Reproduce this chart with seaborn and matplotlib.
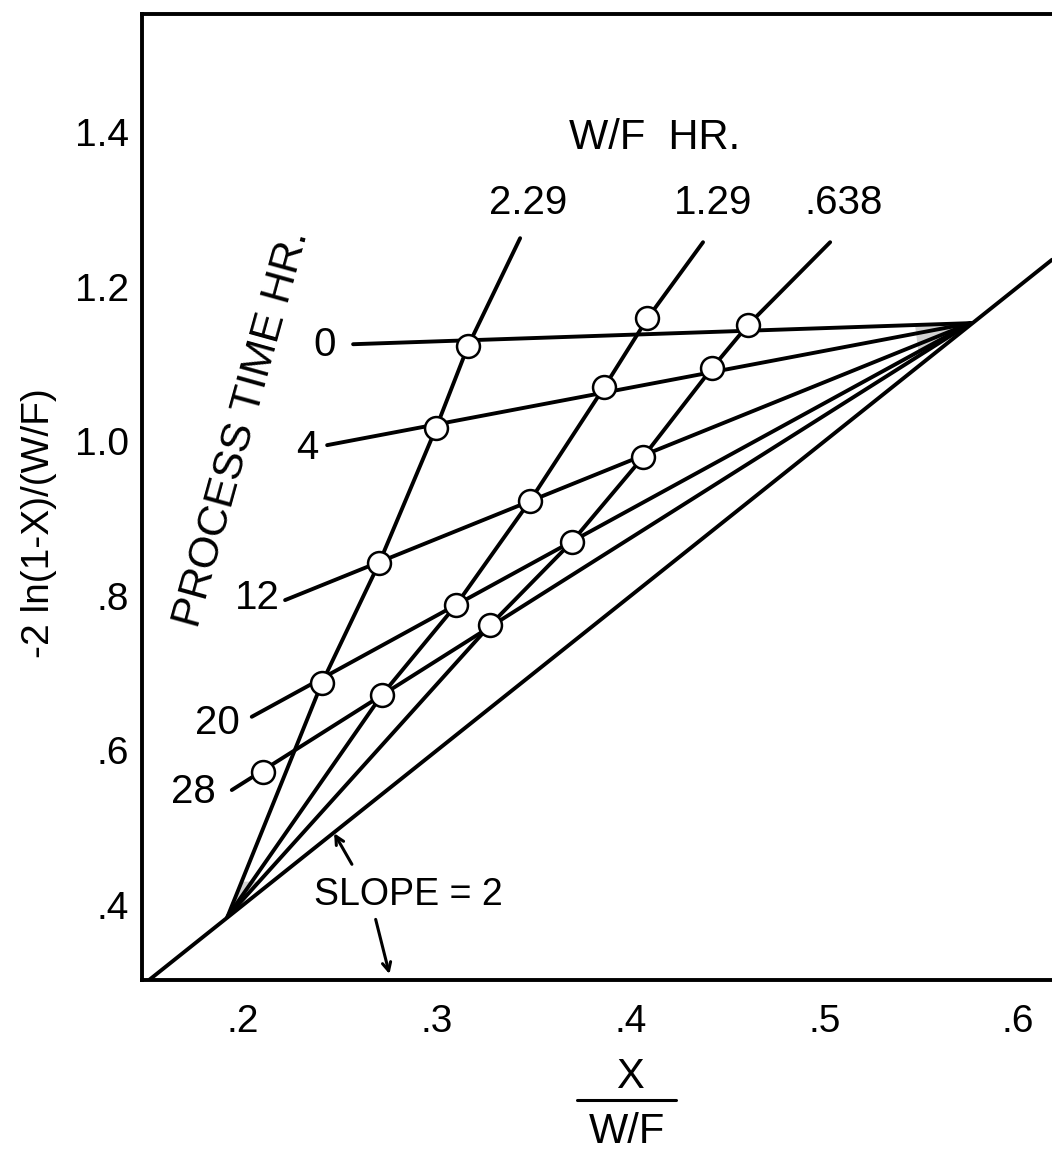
import numpy as np
import pandas as pd
import matplotlib
matplotlib.use("Agg")
import matplotlib.pyplot as plt
from matplotlib.lines import Line2D
from matplotlib import font_manager as fm
import seaborn as sns

# ---------------- data ----------------
wf_labels = ['2.29', '1.29', '.638']          # W/F, hr
time_labels = ['0', '4', '12', '20', '28']    # process time, hr

# measured points (circles): one list per W/F, ordered by process time
pts_x_229 = [0.3161, 0.2996, 0.2703, 0.2406, 0.2105]
pts_y_229 = [1.1232, 1.0171, 0.8428, 0.6868, 0.5724]
pts_x_129 = [0.4087, 0.3865, 0.3481, 0.3099, 0.2716]
pts_y_129 = [1.1590, 1.0705, 0.9230, 0.7881, 0.6717]
pts_x_638 = [0.4605, 0.4419, 0.4063, 0.3697, 0.3275]
pts_y_638 = [1.1503, 1.0943, 0.9792, 0.8700, 0.7622]

# W/F lines: upper end points, number of circles each line runs through
wf_top_x = [0.3430, 0.4374, 0.5030]
wf_top_y = [1.2629, 1.2577, 1.2577]
wf_line_npts = [4, 5, 5]

# process-time lines: left end points
time_start_x = [0.2568, 0.2434, 0.2217, 0.2045, 0.1942]
time_start_y = [1.1257, 0.9951, 0.7946, 0.6436, 0.5488]

# meeting points of the fans
apex_upper = (0.5755, 1.153)
apex_lower = (0.192, 0.385)

# SLOPE = 2 reference line
slope = 2.0
slope_x = [0.1477, 0.6175]

xticks = [0.2, 0.3, 0.4, 0.5, 0.6]
xtick_labels = ['.2', '.3', '.4', '.5', '.6']
yticks = [0.4, 0.6, 0.8, 1.0, 1.2, 1.4]
ytick_labels = ['.4', '.6', '.8', '1.0', '1.2', '1.4']
yminor = [0.5, 0.7, 0.9, 1.1, 1.3, 1.5]

# ---------------- fonts / theme ----------------
sns.set_theme(style="white")
avail = {f.name for f in fm.fontManager.ttflist}
REG = 'Liberation Sans' if 'Liberation Sans' in avail else 'DejaVu Sans'
NAR = 'Liberation Sans Narrow' if 'Liberation Sans Narrow' in avail else REG
plt.rcParams['font.family'] = [REG, 'DejaVu Sans']
plt.rcParams['text.color'] = 'black'
plt.rcParams['axes.labelcolor'] = 'black'
plt.rcParams['xtick.color'] = 'black'
plt.rcParams['ytick.color'] = 'black'

W, H = 1052, 1154
fig = plt.figure(figsize=(W / 100, H / 100), dpi=100)
fig.patch.set_facecolor('white')
L, R, B, T = 141.7, 1052, 980, 14
ax = fig.add_axes([L / W, 1 - B / H, (R - L) / W, (B - T) / H])
ax.set_facecolor('white')

# ---------------- build line table ----------------
pts_x = [pts_x_229, pts_x_129, pts_x_638]
pts_y = [pts_y_229, pts_y_129, pts_y_638]
rows = []
for i, lab in enumerate(wf_labels):
    xs = [wf_top_x[i]] + pts_x[i][:wf_line_npts[i]] + [apex_lower[0]]
    ys = [wf_top_y[i]] + pts_y[i][:wf_line_npts[i]] + [apex_lower[1]]
    for k, (xv, yv) in enumerate(zip(xs, ys)):
        rows.append(dict(line='wf' + lab, order=k, x=xv, y=yv))
for j, lab in enumerate(time_labels):
    rows.append(dict(line='t' + lab, order=0, x=time_start_x[j], y=time_start_y[j]))
    rows.append(dict(line='t' + lab, order=1, x=apex_upper[0], y=apex_upper[1]))
for k, xv in enumerate(slope_x):
    rows.append(dict(line='slope', order=k, x=xv, y=slope * xv))
lines_df = pd.DataFrame(rows)

# grey stippled wedges where the fans close up
def toward(p, q, f):
    return (p[0] + (q[0] - p[0]) * f, p[1] + (q[1] - p[1]) * f)

up0 = toward(apex_upper, (time_start_x[0], time_start_y[0]), 0.09)
up4 = toward(apex_upper, (time_start_x[-1], time_start_y[-1]), 0.07)
ax.fill([apex_upper[0], up0[0], up4[0]], [apex_upper[1], up0[1], up4[1]],
        color='#d2d2d2', lw=0, zorder=1)
lo1 = toward(apex_lower, (pts_x_229[3], pts_y_229[3]), 0.15)
lo3 = toward(apex_lower, (pts_x_638[4], pts_y_638[4]), 0.12)
ax.fill([apex_lower[0], lo1[0], lo3[0]], [apex_lower[1], lo1[1], lo3[1]],
        color='#d2d2d2', lw=0, zorder=1)

sns.lineplot(data=lines_df, x='x', y='y', units='line', estimator=None,
             sort=False, color='black', linewidth=2.8, legend=False, ax=ax,
             zorder=2)

pts_df = pd.DataFrame(dict(
    x=np.concatenate(pts_x), y=np.concatenate(pts_y),
    wf=np.repeat(wf_labels, len(time_labels)),
    t=np.tile(time_labels, len(wf_labels))))
sns.scatterplot(data=pts_df, x='x', y='y', s=272, marker='o',
                facecolor='white', edgecolor='black', linewidth=1.8,
                legend=False, ax=ax, zorder=4)

# ---------------- axes styling ----------------
ax.set_xlim(0.1477, 0.6175)
ax.set_ylim(0.303, 1.553)
ax.set_xticks(xticks)
ax.set_xticklabels(xtick_labels, fontsize=28, fontfamily=NAR, color='black')
ax.set_yticks(yticks)
ax.set_yticklabels(ytick_labels, fontsize=28, fontfamily=NAR, color='black')
ax.set_yticks(yminor, minor=True)
ax.tick_params(axis='both', which='both', direction='in', length=9,
               width=2.4, color='black', labelcolor='black')
ax.tick_params(axis='x', pad=17)
ax.tick_params(axis='y', pad=9)
ax.set_xlabel('')
ax.set_ylabel('')
for s in ['left', 'bottom', 'top']:
    ax.spines[s].set_visible(True)
    ax.spines[s].set_color('black')
    ax.spines[s].set_linewidth(2.8)
ax.spines['right'].set_visible(False)
ax.grid(False)

# ---------------- annotations ----------------
ax.text(0.4126, 1.392, 'W/F  HR.', fontsize=30, ha='center', va='center',
        fontfamily=REG, color='black')
wf_label_x = [0.3471, 0.4426, 0.5097]
for lab, xv in zip(wf_labels, wf_label_x):
    ax.text(xv, 1.308, lab, fontsize=29, ha='center', va='center',
            fontfamily=NAR, color='black')

time_label_x = [0.2423, 0.2330, 0.2072, 0.1866, 0.1742]
time_label_y = [1.1245, 0.9912, 0.7972, 0.6354, 0.5462]
for lab, xv, yv in zip(time_labels, time_label_x, time_label_y):
    ax.text(xv, yv, lab, fontsize=29, ha='center', va='center',
            fontfamily=NAR, color='black')

ax.text(0.1995, 1.017, 'PROCESS TIME HR.', fontsize=31, rotation=74.5,
        ha='center', va='center', rotation_mode='anchor', fontfamily=REG,
        color='black')

ax.text(0.2852, 0.413, 'SLOPE = 2', fontsize=27, ha='center', va='center',
        fontfamily=REG, color='black')
ax.annotate('', xy=(0.2463, 0.4961), xytext=(0.2569, 0.4496),
            arrowprops=dict(arrowstyle='->,head_length=0.5,head_width=0.25',
                            lw=2.2, color='black'))
ax.annotate('', xy=(0.2759, 0.3072), xytext=(0.2681, 0.3849),
            arrowprops=dict(arrowstyle='->,head_length=0.5,head_width=0.25',
                            lw=2.2, color='black'))

# axis titles
fig.text(39 / W, 1 - 523 / H, '-2 ln(1-X)/(W/F)', rotation=90, fontsize=28,
         ha='center', va='center', fontfamily=REG, color='black')
fig.text(630 / W, 1 - 1077 / H, 'X', fontsize=30, ha='center', va='center',
         fontfamily=REG, color='black')
fig.add_artist(Line2D([577 / W, 676 / W], [1 - 1100 / H, 1 - 1100 / H],
                      transform=fig.transFigure, color='black', lw=2.2))
fig.text(627 / W, 1 - 1132 / H, 'W/F', fontsize=30, ha='center', va='center',
         fontfamily=REG, color='black')

fig.savefig('out.png', dpi=100, facecolor='white')
